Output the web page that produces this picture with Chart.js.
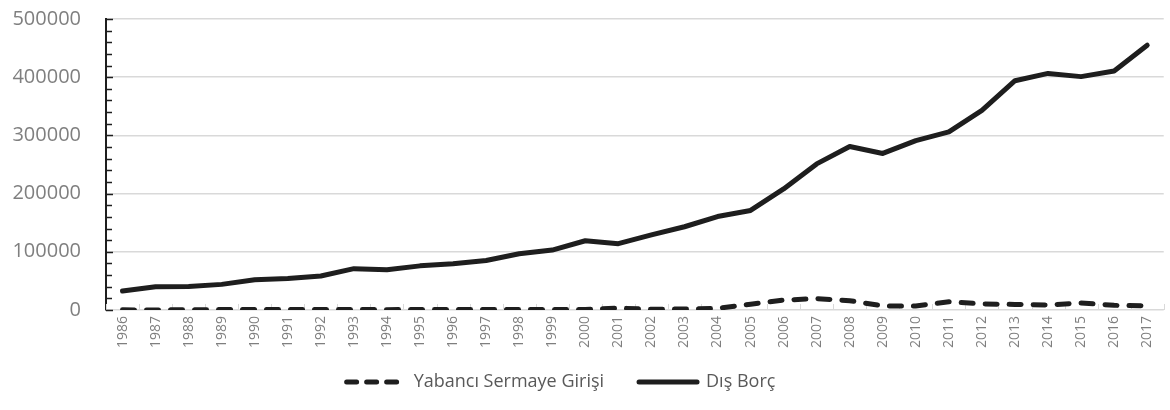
<!DOCTYPE html>
<html>
<head>
<meta charset="utf-8">
<script src="https://cdn.jsdelivr.net/npm/chart.js@4"></script>
<style>
html,body{margin:0;padding:0;background:#fff;}
#wrap{width:1170px;height:410px;position:relative;}
</style>
</head>
<body>
<div id="wrap"><canvas id="c" width="1170" height="410"></canvas></div>
<script>
const years = ['1986','1987','1988','1989','1990','1991','1992','1993','1994','1995','1996','1997','1998','1999','2000','2001','2002','2003','2004','2005','2006','2007','2008','2009','2010','2011','2012','2013','2014','2015','2016','2017'];
const yabanciSermaye = [200,100,400,700,700,800,900,700,600,900,700,800,900,800,1000,3300,1100,1700,2800,10000,17000,19500,16000,7000,7000,14000,10500,9500,8600,12000,8000,7000];
const disBorc = [32500,40000,40500,44000,52000,54000,58500,71000,69000,75800,79500,85000,96500,103000,119000,114000,129000,143000,160500,171000,208000,251000,281000,269000,291000,306000,343000,394000,406500,401000,410500,455000];
const seriesNames = ['Yabancı Sermaye Girişi','Dış Borç'];
const yMax = 500000;
const yMajorStep = 100000;
const yMinorStep = 20000;

const innerTicks = {
  id:'innerTicks',
  afterLayout(chart){
    const lg = chart.legend;
    if (lg) { lg.right -= 48; lg.top -= 16; lg.bottom -= 16; }
  },
  beforeDatasetsDraw(chart){
    const ctx = chart.ctx, y = chart.scales.y, x = chart.scales.x;
    ctx.save();
    ctx.strokeStyle = '#d9d9d9'; ctx.lineWidth = 1;
    for (let i = 0; i <= years.length; i++) {
      const px = Math.round(x.getPixelForValue(i - 0.5)) + 0.5;
      ctx.beginPath(); ctx.moveTo(px, x.top); ctx.lineTo(px, x.top - 6); ctx.stroke();
    }
    ctx.strokeStyle = '#1e1e1e'; ctx.lineWidth = 1.5;
    for (let v = 0; v <= yMax; v += yMinorStep) {
      const py = Math.round(y.getPixelForValue(v)) + 0.5;
      const len = (v % yMajorStep === 0) ? 7 : 6;
      ctx.beginPath(); ctx.moveTo(y.right, py); ctx.lineTo(y.right + len, py); ctx.stroke();
    }
    ctx.restore();
  }
};

new Chart(document.getElementById('c'), {
  type:'line',
  data:{
    labels: years,
    datasets:[
      {label: seriesNames[0], data: yabanciSermaye, borderColor:'#1e1e1e', backgroundColor:'#1e1e1e', borderWidth:5, borderDash:[12,12], borderCapStyle:'round', pointRadius:0, tension:0, fill:false},
      {label: seriesNames[1], data: disBorc, borderColor:'#1e1e1e', backgroundColor:'#1e1e1e', borderWidth:5, borderCapStyle:'round', borderJoinStyle:'round', pointRadius:0, tension:0, fill:false}
    ]
  },
  options:{
    responsive:false, animation:false,
    layout:{padding:{top:19, right:0, left:0, bottom:-7}},
    plugins:{
      tooltip:{enabled:false},
      legend:{
        position:'bottom',
        labels:{
          usePointStyle:true, pointStyle:'line', pointStyleWidth:58,
          color:'#595959', padding:35,
          font:{family:'"Open Sans", sans-serif', size:18},
          generateLabels(chart){
            const items = Chart.defaults.plugins.legend.labels.generateLabels(chart);
            items.forEach((it, i) => {
              const ds = chart.data.datasets[i];
              it.lineDash = ds.borderDash ? [10, 10] : [];
              it.lineCap = 'round';
              it.lineWidth = 5;
              it.pointStyle = 'line';
              it.strokeStyle = '#1e1e1e';
            });
            return items;
          }
        }
      }
    },
    scales:{
      x:{
        offset:true,
        grid:{display:false, drawTicks:false},
        border:{display:true, color:'#d9d9d9', width:1},
        ticks:{color:'#7f7f7f', font:{family:'"Open Sans", sans-serif', size:14}, minRotation:90, maxRotation:90, autoSkip:false, padding:6}
      },
      y:{
        min:0, max:yMax,
        afterFit(s){ s.width = 106; s.paddingTop = 0; s.paddingBottom = 0; },
        grid:{color:'#d9d9d9', lineWidth:1.5, drawTicks:false},
        border:{display:true, color:'#1e1e1e', width:2},
        ticks:{stepSize:yMajorStep, color:'#7f7f7f', padding:25, font:{family:'"Open Sans", sans-serif', size:20}, callback:(v)=>String(v)}
      }
    }
  },
  plugins:[innerTicks]
});
</script>
</body>
</html>
